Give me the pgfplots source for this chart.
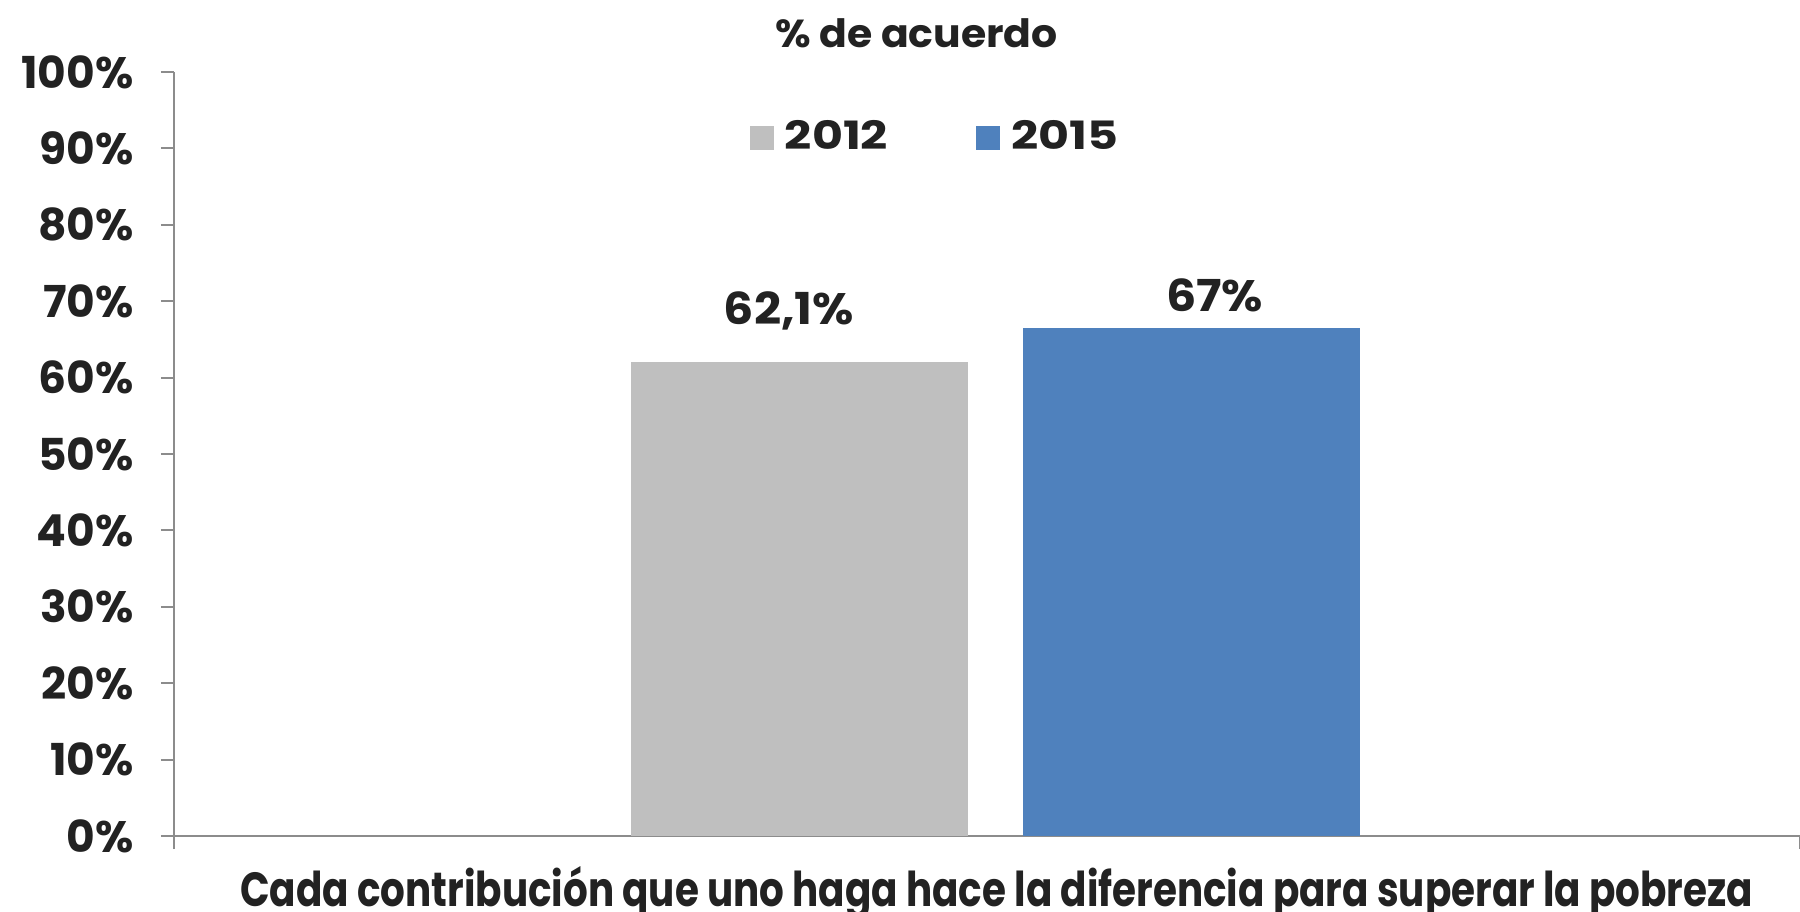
\documentclass[border=0pt]{standalone}
\usepackage{pgfplots}
\pgfplotsset{compat=1.18}
\usepackage{fontspec}
\setmainfont{Poppins}
\newfontfamily\fxl{Poppins}[FakeStretch=0.81]
\newfontfamily\fleg{Poppins}[FakeStretch=1.22]
\newfontfamily\ftitle{Poppins}[FakeStretch=1.05]
\newfontfamily\flab{Poppins}[FakeStretch=1.08]
\definecolor{txt}{HTML}{222222}
\definecolor{axgray}{HTML}{8C8C8C}
\definecolor{bgray}{HTML}{BFBFBF}
\definecolor{bblue}{HTML}{4F81BD}
\begin{document}
\begin{tikzpicture}
\useasboundingbox (-87bp,-38bp) rectangle (813bp,418bp);
\begin{axis}[
  at={(0,0)}, anchor=south west,
  scale only axis, width=813bp, height=382bp,
  xmin=-0.5, xmax=0.5, ymin=0, ymax=100,
  axis x line=bottom, axis y line=left,
  axis line style={-, draw=axgray, line width=1bp},
  tick align=outside, major tick length=6.5bp,
  tick style={draw=axgray, line width=1bp},
  ytick={0,10,...,100},
  yticklabel={\pgfmathprintnumber{\tick}\%},
  /pgf/number format/assume math mode=true,
  yticklabel style={font=\fontsize{22bp}{26bp}\selectfont\bfseries, text=txt, anchor=east, inner sep=0pt, xshift=-13.5bp},
  xtick={-0.5,0.5}, xticklabels={},
  ybar, bar width=168.5bp, bar shift=0pt,
  clip=false,
  xlabel={Cada contribución que uno haga hace la diferencia para superar la pobreza},
  xlabel style={font=\fxl\fontsize{24bp}{28bp}\selectfont\bfseries, text=txt, at={(axis description cs:0.506,0)}, yshift=-35bp, anchor=base, inner sep=0pt},
  legend style={at={(axis description cs:0.4674,0.9156)}, anchor=center, draw=none, fill=none,
    legend columns=2, font=\fleg\fontsize{19.5bp}{23bp}\selectfont\bfseries, text=txt,
    nodes={inner sep=0pt},
    /tikz/every odd column/.append style={column sep=5.5bp},
    /tikz/every even column/.append style={column sep=44bp}},
  legend image code/.code={\fill[#1] (0bp,-6.75bp) rectangle (12bp,5.25bp);},
  point meta=explicit symbolic,
  nodes near coords,
  every node near coord/.append style={font=\flab\fontsize{22bp}{26bp}\selectfont\bfseries, text=txt, anchor=base, inner sep=0pt},
]
\addplot[fill=bgray, draw=none, every node near coord/.append style={yshift=18.5bp, xshift=-5bp}]
  coordinates {(-0.1156,62.1) [62,1\%]};
\addlegendentry{2012}
\addplot[fill=bblue, draw=none, every node near coord/.append style={yshift=8bp, xshift=11.5bp}]
  coordinates {(0.1258,66.5) [67\%]};
\addlegendentry{2015}
\node[anchor=base, inner sep=0pt, text=txt, font=\ftitle\fontsize{19.5bp}{23bp}\selectfont\bfseries]
  at (rel axis cs:0.4566,1.0327) {\% de acuerdo};
\end{axis}
\end{tikzpicture}
\end{document}
